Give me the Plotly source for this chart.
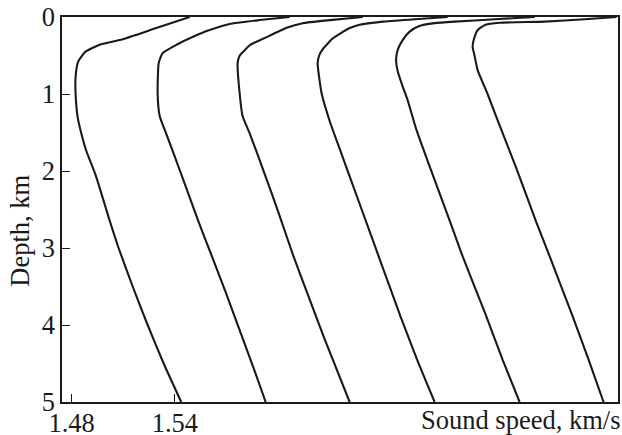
import plotly.graph_objects as go

# Sound-speed profiles (km/s) vs depth (km); each profile is shifted right
# by OFFSET * index so that the family can be compared on one axis.
OFFSET = 0.049

depth_1 = [0, 0.15, 0.30, 0.36, 0.45, 0.58, 0.78, 1.0, 1.3, 1.5, 1.73, 2.07, 2.6, 3.0, 3.5, 4.0, 4.5, 5.0]
speed_1 = [1.5486, 1.5283, 1.5079, 1.4963, 1.4881, 1.4838, 1.4823, 1.4823, 1.4835, 1.4855, 1.4884,
           1.4942, 1.5015, 1.5073, 1.5155, 1.5242, 1.5335, 1.5437]

depth_2 = [0, 0.04, 0.09, 0.17, 0.26, 0.36, 0.47, 0.6, 1.0, 1.29, 1.51, 1.81, 2.2, 2.66, 3.1, 3.59, 4.1, 4.58, 5.0]
speed_2 = [1.5577, 1.5403, 1.5228, 1.5112, 1.5013, 1.4920, 1.4839, 1.4816, 1.4810, 1.4822, 1.4859,
           1.4909, 1.4973, 1.5048, 1.5124, 1.5208, 1.5292, 1.5371, 1.5438]

depth_3 = [0, 0.04, 0.08, 0.14, 0.28, 0.36, 0.42, 0.5, 0.6, 1.0, 1.29, 1.51, 1.86, 2.29, 2.64, 3.11, 3.6, 4.15, 5.0]
speed_3 = [1.5512, 1.5320, 1.5163, 1.5070, 1.4936, 1.4860, 1.4831, 1.4797, 1.4785, 1.4797, 1.4814,
           1.4855, 1.4913, 1.4983, 1.5038, 1.5110, 1.5192, 1.5285, 1.5436]

depth_4 = [0, 0.03, 0.06, 0.10, 0.15, 0.28, 0.42, 0.5, 0.6, 0.99, 1.35, 1.73, 2.07, 2.64, 3.16, 3.89, 4.45, 5.0]
speed_4 = [1.5516, 1.5324, 1.5138, 1.5004, 1.4940, 1.4847, 1.4789, 1.4769, 1.4760, 1.4783, 1.4830,
           1.4891, 1.4946, 1.5039, 1.5123, 1.5242, 1.5338, 1.5440]

depth_5 = [0, 0.03, 0.06, 0.08, 0.12, 0.19, 0.3, 0.43, 0.56, 0.7, 0.9, 1.08, 1.47, 1.94, 2.64, 3.11, 3.85, 4.45, 5.0]
speed_5 = [1.5531, 1.5299, 1.5066, 1.4950, 1.4857, 1.4805, 1.4764, 1.4735, 1.4726, 1.4735, 1.4764,
           1.4793, 1.4845, 1.4921, 1.5037, 1.5113, 1.5244, 1.5345, 1.5444]

depth_6 = [0, 0.03, 0.06, 0.075, 0.10, 0.17, 0.3, 0.39, 0.5, 0.69, 1.0, 1.34, 1.94, 2.64, 3.11, 3.85, 4.45, 5.0]
speed_6 = [1.5518, 1.5332, 1.5099, 1.4838, 1.4756, 1.4710, 1.4687, 1.4681, 1.4692, 1.4710, 1.4768,
           1.4826, 1.4931, 1.5047, 1.5129, 1.5256, 1.5355, 1.5442]

profiles = [(depth_1, speed_1), (depth_2, speed_2), (depth_3, speed_3),
            (depth_4, speed_4), (depth_5, speed_5), (depth_6, speed_6)]

x_tick_values = [1.48, 1.54]
y_tick_values = [0, 1, 2, 3, 4, 5]

FONT = "Liberation Serif"
FONT_SIZE = 26.5
INK = "#1a1a1a"

fig = go.Figure()
for k, (d, s) in enumerate(profiles):
    fig.add_trace(go.Scatter(
        x=[v + k * OFFSET for v in s], y=d, mode="lines",
        line=dict(color=INK, width=2.1, shape="spline", smoothing=0.5),
        showlegend=False, hoverinfo="skip",
    ))

axis_common = dict(
    showgrid=False, zeroline=False, showline=True, linecolor=INK, linewidth=1.5,
    mirror=True, ticks="inside", ticklen=8, tickwidth=1.2, tickcolor=INK,
    tickfont=dict(family=FONT, size=FONT_SIZE, color=INK), automargin=False,
)

fig.update_layout(
    width=622, height=435,
    margin=dict(l=62, r=4, t=17, b=33),
    paper_bgcolor="white", plot_bgcolor="white",
    xaxis=dict(range=[1.4744, 1.7976], tickvals=x_tick_values, ticklabelstandoff=-4,
               ticktext=[f"{v:.2f}" for v in x_tick_values], **axis_common),
    yaxis=dict(range=[5, 0], tickvals=y_tick_values,
               ticktext=[str(v) for v in y_tick_values], **axis_common),
    annotations=[
        dict(text="Sound speed, km/s", x=1.0, y=0, xref="paper", yref="paper",
             xanchor="right", yanchor="top", xshift=5, yshift=-1, showarrow=False,
             font=dict(family=FONT, size=FONT_SIZE, color=INK)),
        dict(text="Depth, km", x=0, y=0.445, xref="paper", yref="paper",
             xanchor="center", yanchor="middle", xshift=-42, textangle=-90,
             showarrow=False, font=dict(family=FONT, size=FONT_SIZE, color=INK)),
    ],
)

fig.write_html("out.html")
